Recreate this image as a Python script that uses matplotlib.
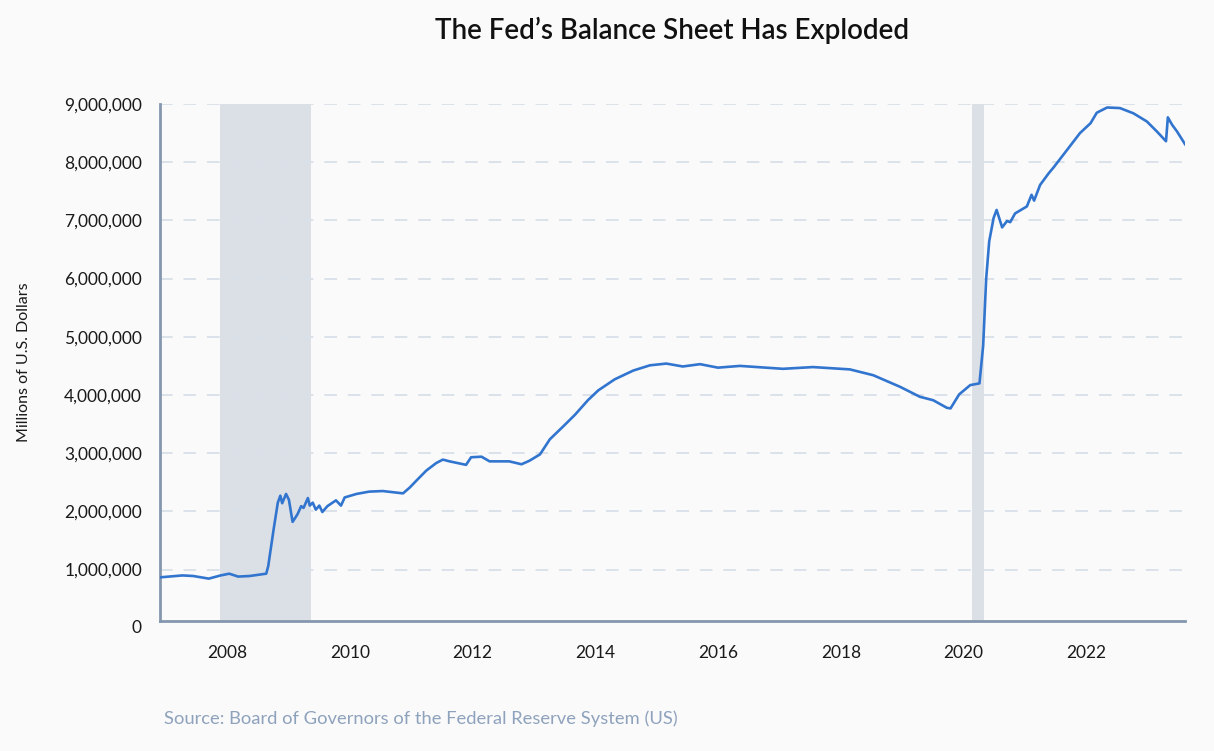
import matplotlib
matplotlib.use("Agg")
import matplotlib.pyplot as plt
import matplotlib.dates as mdates
import matplotlib.ticker as mticker
import pandas as pd

# ---- data (millions of U.S. dollars) ----
dates = [
    "2006-11-29", "2007-04-12", "2007-06-15", "2007-09-15", "2007-11-25",
    "2008-01-15", "2008-03-08", "2008-05-15", "2008-08-22", "2008-09-03",
    "2008-10-05", "2008-10-30", "2008-11-14", "2008-11-25", "2008-12-18",
    "2009-01-04", "2009-01-26", "2009-02-24", "2009-03-18", "2009-04-01",
    "2009-04-27", "2009-05-08", "2009-05-26", "2009-06-13", "2009-07-04",
    "2009-07-22", "2009-08-21", "2009-10-11", "2009-11-10", "2009-12-02",
    "2010-02-10", "2010-04-27", "2010-07-16", "2010-11-14", "2010-12-24",
    "2011-02-02", "2011-04-01", "2011-05-30", "2011-07-09", "2011-08-18",
    "2011-11-24", "2011-12-24", "2012-02-24", "2012-04-12", "2012-08-07",
    "2012-10-19", "2012-12-05", "2013-02-06", "2013-04-06", "2013-06-24",
    "2013-09-02", "2013-11-18", "2014-01-19", "2014-04-27", "2014-08-15",
    "2014-11-22", "2015-02-28", "2015-06-06", "2015-09-16", "2016-01-01",
    "2016-05-11", "2017-01-22", "2017-07-20", "2018-02-24", "2018-07-13",
    "2018-12-20", "2019-04-16", "2019-07-05", "2019-09-24", "2019-10-16",
    "2019-12-06", "2020-02-10", "2020-04-05", "2020-04-27", "2020-05-15",
    "2020-06-02", "2020-06-28", "2020-07-16", "2020-08-18", "2020-09-16",
    "2020-10-05", "2020-11-03", "2021-01-12", "2021-02-09", "2021-02-24",
    "2021-04-01", "2021-05-22", "2021-06-20", "2021-09-08", "2021-11-24",
    "2022-01-26", "2022-03-04", "2022-05-05", "2022-07-20", "2022-10-08",
    "2022-12-27", "2023-02-24", "2023-04-20", "2023-05-01", "2023-05-27",
    "2023-06-24", "2023-08-11",
]
assets_m = [
    0.867, 0.90, 0.89, 0.845, 0.90,
    0.93, 0.88, 0.89, 0.93, 1.06,
    1.69, 2.15, 2.27, 2.14, 2.30,
    2.20, 1.82, 1.95, 2.09, 2.06,
    2.23, 2.10, 2.15, 2.03, 2.10,
    1.99, 2.09, 2.19, 2.10, 2.24,
    2.30, 2.34, 2.35, 2.31, 2.41,
    2.53, 2.70, 2.83, 2.89, 2.86,
    2.80, 2.93, 2.94, 2.86, 2.86,
    2.81, 2.87, 2.98, 3.24, 3.46,
    3.66, 3.91, 4.08, 4.27, 4.42,
    4.51, 4.54, 4.49, 4.53, 4.47,
    4.50, 4.45, 4.48, 4.44, 4.34,
    4.14, 3.97, 3.91, 3.78, 3.77,
    4.01, 4.17, 4.20, 4.85, 6.00,
    6.64, 7.04, 7.18, 6.88, 6.99,
    6.97, 7.12, 7.24, 7.44, 7.34,
    7.61, 7.81, 7.91, 8.21, 8.50,
    8.67, 8.85, 8.94, 8.93, 8.84,
    8.70, 8.53, 8.36, 8.77, 8.64,
    8.53, 8.31,
]
assets = [v * 1_000_000 for v in assets_m]

recession_starts = ["2007-11-22", "2020-02-20"]
recession_ends = ["2009-05-18", "2020-05-04"]

y_ticks = [1_000_000, 2_000_000, 3_000_000, 4_000_000, 5_000_000,
           6_000_000, 7_000_000, 8_000_000, 9_000_000]
x_tick_years = [2008, 2010, 2012, 2014, 2016, 2018, 2020, 2022]

title = "The Fed\u2019s Balance Sheet Has Exploded"
y_label = "Millions of U.S. Dollars"
source = "Source: Board of Governors of the Federal Reserve System (US)"

# ---- styling ----
plt.rcParams["font.family"] = ["Lato", "DejaVu Sans"]
BG = "#fafafb"
LINE = "#3275cf"
SHADE = "#dbe0e7"
GRID = "#d9e0e8"
SPINE = "#8597ae"
TEXT = "#1a1a1a"
SRC = "#8ea2bc"

fig = plt.figure(figsize=(12.14, 7.51), dpi=100, facecolor=BG)
ax = fig.add_axes([160 / 1214, 1 - 621 / 751, (1185 - 160) / 1214, (621 - 104) / 751])
ax.set_facecolor(BG)

x = pd.to_datetime(dates)
for s, e in zip(recession_starts, recession_ends):
    ax.axvspan(pd.Timestamp(s), pd.Timestamp(e), color=SHADE, lw=0, zorder=1)

ax.plot(x, assets, color=LINE, lw=1.9, zorder=3, solid_joinstyle="round")

ax.set_xlim(x[0], x[-1])
ax.set_ylim(117_000, 9_000_000)
ax.set_yticks(y_ticks)
ax.yaxis.set_major_formatter(mticker.FuncFormatter(lambda v, p: f"{int(v):,}"))
ax.set_xticks([pd.Timestamp(f"{yr}-01-01") for yr in x_tick_years])
ax.xaxis.set_major_formatter(mdates.DateFormatter("%Y"))

ax.grid(axis="y", color=GRID, lw=1.3, linestyle=(0, (7, 6)), zorder=2)
ax.grid(axis="x", visible=False)
ax.tick_params(axis="both", length=0, labelsize=12.5, labelcolor=TEXT)
ax.tick_params(axis="y", pad=13)
ax.tick_params(axis="x", pad=17)

for side in ("top", "right"):
    ax.spines[side].set_visible(False)
for side in ("left", "bottom"):
    ax.spines[side].set_color(SPINE)
    ax.spines[side].set_linewidth(2)

# the "0" label sits just below the axis floor
ax.annotate("0", xy=(0, 0), xycoords=("axes fraction", "data"),
            xytext=(-13, 0), textcoords="offset points", ha="right", va="center",
            fontsize=12.5, color=TEXT, annotation_clip=False)

ax.set_ylabel(y_label, fontsize=11.5, color=TEXT)
ax.yaxis.set_label_coords(-0.126, 0.5)

fig.text(672 / 1214, 1 - 30 / 751, title, ha="center", va="center",
         fontsize=20, color="#111111", fontweight="semibold")
fig.text(164 / 1214, 1 - 719 / 751, source, ha="left", va="center",
         fontsize=13.2, color=SRC)

fig.savefig("out.png", dpi=100, facecolor=BG)
